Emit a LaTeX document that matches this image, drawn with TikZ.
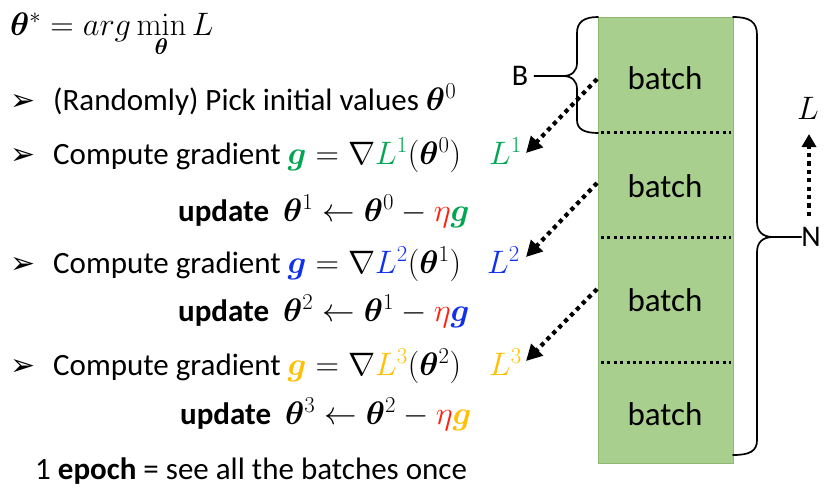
\RequirePackage{fix-cm}
\documentclass[tikz,border=0pt]{standalone}
\usepackage{amsmath}
\usepackage{bm}
\usepackage[no-math]{fontspec}
\setmainfont{Carlito}
\newfontfamily\dejavu{DejaVu Sans}
\usetikzlibrary{arrows.meta}
\definecolor{cgreen}{HTML}{00A651}
\definecolor{cblue}{HTML}{1030F0}
\definecolor{corange}{HTML}{FFC000}
\definecolor{cred}{HTML}{FF2010}
\definecolor{batchfill}{HTML}{A9CF8E}
\definecolor{batchedge}{HTML}{8DB870}
\newcommand\mth[1]{{\fontsize{32.5}{38}\selectfont$#1$}}
\begin{document}
\begin{tikzpicture}[x=1pt,y=-1pt,
  txt/.style={anchor=base west, inner sep=0pt, font=\fontsize{31}{36}\selectfont},
  bul/.style={anchor=base west, inner sep=0pt, font=\dejavu\fontsize{30}{34}\selectfont},
  batchlbl/.style={inner sep=0pt, font=\fontsize{33}{40}\selectfont},
  sidelbl/.style={inner sep=0pt, font=\fontsize{30}{34}\selectfont},
  dotarrow/.style={line width=4.2pt, dash pattern=on 4.2pt off 4.2pt, -{Triangle[length=16pt,width=16pt]}},
  sepline/.style={line width=3pt, dash pattern=on 3pt off 3.4pt},
  bracestyle/.style={line width=1.7pt, line cap=round}]
\useasboundingbox (0,0) rectangle (834,496);
\fill[white] (0,0) rectangle (834,496);

% data block
\node[draw=batchedge, fill=batchfill, line width=0.8pt, minimum width=135pt, minimum height=446pt, inner sep=0pt, anchor=north west] (data) at (598,17) {};
\draw[sepline] (601,132) -- (731,132);
\draw[sepline] (601,237) -- (731,237);
\draw[sepline] (601,362) -- (731,362);
\node[batchlbl] (b1) at (665,78) {batch};
\node[batchlbl] (b2) at (665,186) {batch};
\node[batchlbl] (b3) at (665,300) {batch};
\node[batchlbl] (b4) at (665,414) {batch};

% B brace
\coordinate (Btip) at (563,76);
\draw[bracestyle] (598,17) .. controls (584,17) and (577,22) .. (577,33) -- (577,63) .. controls (577,71) and (572,76) .. (Btip) .. controls (572,76) and (577,81) .. (577,89) -- (577,120) .. controls (577,129) and (584,133) .. (598,133);
\node[sidelbl] (B) at (520,76) {B};
\draw[bracestyle] (B.east) ++(6,0) -- (Btip);

% N brace
\coordinate (Ntip) at (773,237);
\draw[bracestyle] (733,17) .. controls (750,17) and (757,22) .. (757,35) -- (757,222) .. controls (757,231) and (762,237) .. (Ntip) .. controls (762,237) and (757,243) .. (757,252) -- (757,440) .. controls (757,451) and (750,455) .. (733,455);
\node[sidelbl] (N) at (811,237) {N};
\draw[bracestyle] (Ntip) -- (N.west);

% L arrow
\node[txt, anchor=center] (Ltop) at (808,108) {\mth{L}};
\coordinate (La) at (809,216);
\draw[dotarrow, -{Triangle[length=13pt,width=14pt]}] (La) -- (809,134);

% left text
\node[txt] (f0) at (10,35) {\mth{\bm{\theta}^{*} = arg\min\limits_{\bm{\theta}} L}};

\node[bul] (p0) at (10,110) {➢};
\node[txt] (t0) at (53,110) {(Randomly) Pick initial values \mth{\bm{\theta}^{0}}};

\node[bul] (p1) at (10,164) {➢};
\node[txt] (t1) at (53,164) {Compute gradient \mth{{\color{cgreen}\bm{g}} = \nabla {\color{cgreen}L^{1}}(\bm{\theta}^{0})}};
\node[txt] (L1) at (489,164) {\mth{\color{cgreen}L^{1}}};
\node[txt] (u1) at (178,221) {\textbf{update}\ \ \mth{\bm{\theta}^{1} \leftarrow \bm{\theta}^{0} - {\color{cred}\eta}{\color{cgreen}\bm{g}}}};

\node[bul] (p2) at (10,273) {➢};
\node[txt] (t2) at (53,273) {Compute gradient \mth{{\color{cblue}\bm{g}} = \nabla {\color{cblue}L^{2}}(\bm{\theta}^{1})}};
\node[txt] (L2) at (487,273) {\mth{\color{cblue}L^{2}}};
\node[txt] (u2) at (178,321) {\textbf{update}\ \ \mth{\bm{\theta}^{2} \leftarrow \bm{\theta}^{1} - {\color{cred}\eta}{\color{cblue}\bm{g}}}};

\node[bul] (p3) at (10,375) {➢};
\node[txt] (t3) at (53,375) {Compute gradient \mth{{\color{corange}\bm{g}} = \nabla {\color{corange}L^{3}}(\bm{\theta}^{2})}};
\node[txt] (L3) at (489,375) {\mth{\color{corange}L^{3}}};
\node[txt] (u3) at (180,424) {\textbf{update}\ \ \mth{\bm{\theta}^{3} \leftarrow \bm{\theta}^{2} - {\color{cred}\eta}{\color{corange}\bm{g}}}};

\node[txt] (ep) at (35,479) {1 \textbf{epoch} = see all the batches once};

% dotted arrows from batches
\coordinate (s1) at (597,79);
\coordinate (s2) at (597,183);
\coordinate (s3) at (597,289);
\coordinate (e1) at (526,153);
\coordinate (e2) at (526,257);
\coordinate (e3) at (526,361);
\draw[dotarrow] (s1) -- (e1);
\draw[dotarrow] (s2) -- (e2);
\draw[dotarrow] (s3) -- (e3);
\end{tikzpicture}
\end{document}
